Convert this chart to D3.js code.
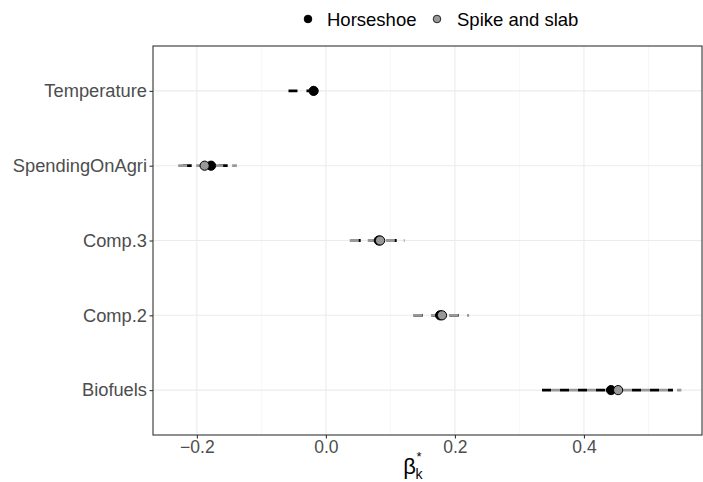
<!DOCTYPE html>
<html><head><meta charset="utf-8">
<script src="https://cdn.jsdelivr.net/npm/d3@7"></script>
<style>body{margin:0;background:#fff}svg{display:block}text{font-family:"Liberation Sans",Arial,sans-serif}</style>
</head><body>
<svg id="c" width="703" height="482"></svg>
<script>
const categories = ["Temperature","SpendingOnAgri","Comp.3","Comp.2","Biofuels"];
const seriesNames = ["Horseshoe","Spike and slab"];
const horseshoeMean  = [-0.019, -0.178, 0.082, 0.177, 0.442];
const horseshoeLower = [-0.058, -0.222, 0.040, 0.136, 0.335];
const horseshoeUpper = [-0.003, -0.143, 0.120, 0.218, 0.538];
const spikeMean  = [null, -0.188, 0.084, 0.180, 0.453];
const spikeLower = [null, -0.229, 0.037, 0.135, 0.349];
const spikeUpper = [null, -0.138, 0.122, 0.222, 0.551];
const xTicks = [-0.2, 0.0, 0.2, 0.4];
const xMinor = [-0.1, 0.1, 0.3, 0.5];

const svg = d3.select("#c");
const L = 153, R = 702, T = 46, B = 435;
const x = d3.scaleLinear().domain([-0.268, 0.583]).range([L, R]);
const y = d3.scalePoint().domain(categories).range([T, B]).padding(0.6);

const g = svg.append("g");
// grid
g.selectAll(".mn").data(xMinor).join("line")
  .attr("x1", d => x(d)).attr("x2", d => x(d)).attr("y1", T).attr("y2", B)
  .attr("stroke", "#f2f2f2").attr("stroke-width", 0.6);
g.selectAll(".mj").data(xTicks).join("line")
  .attr("x1", d => x(d)).attr("x2", d => x(d)).attr("y1", T).attr("y2", B)
  .attr("stroke", "#ebebeb").attr("stroke-width", 1.1);
g.selectAll(".hy").data(categories).join("line")
  .attr("x1", L).attr("x2", R).attr("y1", d => y(d)).attr("y2", d => y(d))
  .attr("stroke", "#ebebeb").attr("stroke-width", 1.1);

// axes
const xa = svg.append("g").attr("transform", `translate(0,${B})`)
  .call(d3.axisBottom(x).tickValues(xTicks).tickSize(3.5).tickPadding(2)
    .tickFormat(d => d === 0 ? "0.0" : d3.format(".1f")(d).replace("-", "\u2212")));
xa.select(".domain").remove();
xa.selectAll("line").attr("stroke", "#333").attr("stroke-width", 1.1);
xa.selectAll("text").attr("fill", "#4d4d4d").attr("font-size", 17.5);

const ya = svg.append("g").attr("transform", `translate(${L},0)`)
  .call(d3.axisLeft(y).tickSize(3.5).tickPadding(2.5));
ya.select(".domain").remove();
ya.selectAll("line").attr("stroke", "#333").attr("stroke-width", 1.1);
ya.selectAll("text").attr("fill", "#4d4d4d").attr("font-size", 18.3);

// panel border
svg.append("rect").attr("x", L).attr("y", T).attr("width", R - L).attr("height", B - T)
  .attr("fill", "none").attr("stroke", "#333").attr("stroke-width", 1.1);

// intervals
const series = [
  {name: seriesNames[0], m: horseshoeMean, lo: horseshoeLower, hi: horseshoeUpper, col: "#000000", fill: "#000000"},
  {name: seriesNames[1], m: spikeMean, lo: spikeLower, hi: spikeUpper, col: "#999999", fill: "#999999"}
];
series.forEach(s => {
  const d = categories.map((c, i) => ({c, m: s.m[i], lo: s.lo[i], hi: s.hi[i]})).filter(v => v.m !== null);
  g.append("g").selectAll("line").data(d).join("line")
    .attr("x1", v => x(v.lo)).attr("x2", v => x(v.hi))
    .attr("y1", v => y(v.c)).attr("y2", v => y(v.c))
    .attr("stroke", s.col).attr("stroke-width", 2.8)
    .attr("stroke-dasharray", "9,9");
});
series.forEach(s => {
  const d = categories.map((c, i) => ({c, m: s.m[i]})).filter(v => v.m !== null);
  g.append("g").selectAll("circle").data(d).join("circle")
    .attr("cx", v => x(v.m)).attr("cy", v => y(v.c)).attr("r", 4.6)
    .attr("fill", s.fill).attr("stroke", "#000").attr("stroke-width", 1);
});

// legend
const lg = svg.append("g");
lg.append("circle").attr("cx", 308).attr("cy", 19).attr("r", 3.8).attr("fill", "#000").attr("stroke", "#000");
lg.append("text").attr("x", 327).attr("y", 25.5).attr("font-size", 18.5).attr("fill", "#000").text(seriesNames[0]);
lg.append("circle").attr("cx", 437).attr("cy", 19).attr("r", 3.8).attr("fill", "#999").attr("stroke", "#000").attr("stroke-width", 0.8);
lg.append("text").attr("x", 457).attr("y", 25.5).attr("font-size", 18.5).attr("fill", "#000").text(seriesNames[1]);

// x label
svg.append("text").attr("x", 416).attr("y", 474).attr("text-anchor", "end").attr("font-size", 22).attr("fill", "#000").text("\u03B2");
svg.append("text").attr("x", 416.5).attr("y", 461).attr("font-size", 13).attr("fill", "#000").text("*");
svg.append("text").attr("x", 415.5).attr("y", 479).attr("font-size", 14).attr("fill", "#000").text("k");
</script>
</body></html>
